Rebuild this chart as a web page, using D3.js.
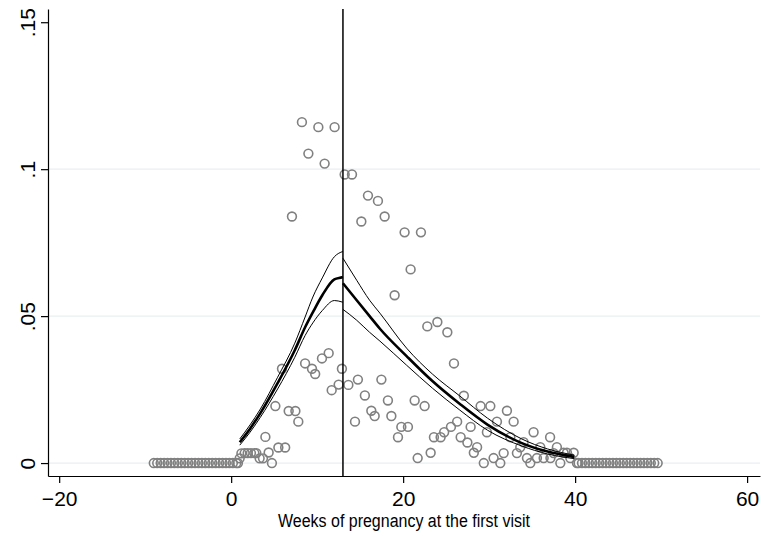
<!DOCTYPE html>
<html>
<head>
<meta charset="utf-8">
<script src="https://cdn.jsdelivr.net/npm/d3@7/dist/d3.min.js"></script>
<style>
body { margin: 0; background: #fff; }
text { font-family: "Liberation Sans", Arial, Helvetica, sans-serif; fill: #000; }
</style>
</head>
<body>
<div id="chart"></div>
<script>
'use strict';

// share of first visits at each week of pregnancy (hollow circles)
var weeks = [
    -9.0, -8.6, -8.2, -7.8, -7.4, -7.0, -6.6, -6.2, -5.8, -5.4, -5.0, -4.6,
    -4.2, -3.8, -3.4, -3.0, -2.6, -2.2, -1.8, -1.4, -1.0, -0.6, -0.2, 0.2,
    0.60, 0.79, 0.99, 1.19, 1.57, 1.92, 2.30, 2.70, 2.93, 3.31, 3.70, 3.98,
    4.36, 4.74, 5.14, 5.49, 5.91, 6.28, 6.69, 7.07, 7.47, 7.81, 8.23, 8.60,
    8.98, 9.40, 9.77, 10.14, 10.56, 10.87, 11.34, 11.69, 12.03, 12.50, 12.88, 13.20,
    13.63, 14.05, 14.40, 14.74, 15.14, 15.55, 15.91, 16.30, 16.69, 17.07, 17.47, 17.85,
    18.23, 18.63, 19.01, 19.40, 19.79, 20.17, 20.56, 20.87, 21.34, 21.69, 22.07, 22.50,
    22.81, 23.20, 23.58, 23.98, 24.36, 24.77, 25.14, 25.56, 25.91, 26.28, 26.69, 27.06,
    27.47, 27.85, 28.22, 28.60, 29.01, 29.38, 29.74, 30.14, 30.52, 30.91, 31.30, 31.69,
    32.07, 32.47, 32.85, 33.23, 33.62, 34.01, 34.40, 34.79, 35.17, 35.56, 35.95, 36.34,
    37.09, 37.13, 37.50, 37.88, 38.28, 38.66, 39.05, 39.44, 39.83, 40.21,
    40.4, 40.8, 41.2, 41.6, 42.0, 42.4, 42.8, 43.2, 43.6, 44.0, 44.4, 44.8,
    45.2, 45.6, 46.0, 46.4, 46.8, 47.2, 47.6, 48.0, 48.4, 48.8, 49.2, 49.6
];
var share = [
    0, 0, 0, 0, 0, 0, 0, 0, 0, 0, 0, 0,
    0, 0, 0, 0, 0, 0, 0, 0, 0, 0, 0, 0,
    0, 0, 0.0016, 0.0033, 0.0034, 0.0034, 0.0034, 0.0034, 0.0034, 0.0016, 0.0016, 0.0089,
    0.0036, 0, 0.0194, 0.0053, 0.0321, 0.0053, 0.0177, 0.0839, 0.0177, 0.0141, 0.1160, 0.0339,
    0.1053, 0.0321, 0.0303, 0.1143, 0.0356, 0.1019, 0.0374, 0.0248, 0.1143, 0.0267, 0.0321, 0.0982,
    0.0266, 0.0982, 0.0141, 0.0284, 0.0822, 0.0230, 0.0910, 0.0178, 0.0160, 0.0892, 0.0284, 0.0839,
    0.0213, 0.0160, 0.0571, 0.0088, 0.0123, 0.0785, 0.0123, 0.0659, 0.0213, 0.0017, 0.0785, 0.0194,
    0.0465, 0.0035, 0.0088, 0.0480, 0.0088, 0.0105, 0.0445, 0.0123, 0.0339, 0.0141, 0.0088, 0.0229,
    0.0070, 0.0123, 0.0035, 0.0054, 0.0194, 0, 0.0105, 0.0194, 0.0017, 0.0141, 0, 0.0034,
    0.0178, 0.0088, 0.0141, 0.0034, 0.0054, 0.0071, 0.0017, 0, 0.0105, 0.0017, 0.0054, 0.0017,
    0.0088, 0.0017, 0.0034, 0.0054, 0, 0.0035, 0.0035, 0.0017, 0.0035, 0,
    0, 0, 0, 0, 0, 0, 0, 0, 0, 0, 0, 0,
    0, 0, 0, 0, 0, 0, 0, 0, 0, 0, 0, 0
];

// fitted density and confidence band, before the cutoff
var fitLeftX  = [1.0, 2.2, 3.4, 5.4, 7.4, 8.6, 9.5, 10.6, 12.0, 12.9, 13.0];
var fitLeftY  = [0.0071, 0.0117, 0.0170, 0.0272, 0.0384, 0.0462, 0.0513, 0.0571, 0.0625, 0.0632, 0.0633];
var fitLeftHi = [0.0082, 0.0130, 0.0184, 0.0292, 0.0408, 0.0497, 0.0565, 0.0630, 0.0702, 0.0719, 0.0720];
var fitLeftLo = [0.0061, 0.0105, 0.0156, 0.0252, 0.0360, 0.0434, 0.0477, 0.0519, 0.0553, 0.0548, 0.0547];

// fitted density and confidence band, after the cutoff
var fitRightX  = [13.0, 14.6, 16.1, 17.3, 20.4, 23.4, 26.6, 29.8, 33.8, 36.8, 39.9];
var fitRightY  = [0.0612, 0.0554, 0.0500, 0.0457, 0.0364, 0.0279, 0.0201, 0.0131, 0.0068, 0.0039, 0.0021];
var fitRightHi = [0.0697, 0.0622, 0.0554, 0.0510, 0.0391, 0.0303, 0.0228, 0.0153, 0.0082, 0.0048, 0.0027];
var fitRightLo = [0.0523, 0.0486, 0.0445, 0.0415, 0.0333, 0.0255, 0.0180, 0.0112, 0.0058, 0.0031, 0.0015];

var cutoff = 13;
var xTicks = [-20, 0, 20, 40, 60];
var yTicks = [0, 0.05, 0.1, 0.15];
var yTickLabels = ['0', '.05', '.1', '.15'];
var gridTicks = [0, 0.05, 0.1];
var xTitle = 'Weeks of pregnancy at the first visit';

var chart = {};

chart.width = 761;
chart.height = 537;
chart.margins = {top: 9, bottom: 61, left: 48, right: 1};
chart.cw = chart.width - chart.margins.left - chart.margins.right;
chart.ch = chart.height - chart.margins.top - chart.margins.bottom;

chart.x = d3.scaleLinear().domain([-21.3, 61.5]).range([0, chart.cw]);
chart.y = d3.scaleLinear().domain([-0.0044, 0.1545]).range([chart.ch, 0]);

chart.appendSvg = function(div)
{
    var svg = d3.select(div).append('svg')
        .attr('width', chart.width)
        .attr('height', chart.height);

    svg.append('rect')
        .attr('width', chart.width)
        .attr('height', chart.height)
        .attr('fill', '#fff');

    return svg;
}

chart.appendPlotGroup = function(svg)
{
    return svg.append('g')
        .attr('transform', 'translate(' + chart.margins.left + ',' + chart.margins.top + ')');
}

chart.drawGrid = function(g)
{
    g.selectAll('line.grid')
        .data(gridTicks)
        .enter()
        .append('line')
        .attr('class', 'grid')
        .attr('x1', 0)
        .attr('x2', chart.cw)
        .attr('y1', function(d){ return chart.y(d); })
        .attr('y2', function(d){ return chart.y(d); })
        .style('stroke', '#e8f0f1')
        .style('stroke-width', 1.2);
}

chart.drawPoints = function(g)
{
    var pts = weeks.map(function(w, i){ return {w: w, s: share[i]}; });

    g.selectAll('circle.obs')
        .data(pts)
        .enter()
        .append('circle')
        .attr('class', 'obs')
        .attr('cx', function(d){ return chart.x(d.w); })
        .attr('cy', function(d){ return chart.y(d.s); })
        .attr('r', 4.4)
        .style('fill', 'none')
        .style('stroke', '#808080')
        .style('stroke-width', 1.6);
}

chart.drawFit = function(g, xs, ys, width)
{
    var line = d3.line()
        .x(function(d){ return chart.x(d[0]); })
        .y(function(d){ return chart.y(d[1]); })
        .curve(d3.curveMonotoneX);

    g.append('path')
        .attr('d', line(xs.map(function(v, i){ return [v, ys[i]]; })))
        .style('fill', 'none')
        .style('stroke', '#000')
        .style('stroke-width', width);
}

chart.drawAxes = function(g)
{
    var xAxis = d3.axisBottom(chart.x)
        .tickValues(xTicks)
        .tickFormat(function(d){ return d < 0 ? '\u2212' + Math.abs(d) : d; })
        .tickSize(7)
        .tickSizeOuter(0)
        .tickPadding(8);

    var gx = g.append('g')
        .attr('transform', 'translate(0,' + chart.ch + ')')
        .call(xAxis);

    gx.selectAll('text').style('font-size', '21px');

    var yAxis = d3.axisLeft(chart.y)
        .tickValues(yTicks)
        .tickFormat(function(d, i){ return yTickLabels[i]; })
        .tickSize(7)
        .tickSizeOuter(0);

    var gy = g.append('g').call(yAxis);

    gy.selectAll('text')
        .attr('x', 0)
        .attr('y', -13)
        .attr('dy', null)
        .attr('text-anchor', 'middle')
        .attr('transform', 'rotate(-90)')
        .style('font-size', '21px');

    g.selectAll('.domain, .tick line')
        .style('stroke', '#000')
        .style('stroke-width', 1.2);

    g.append('text')
        .attr('x', chart.cw / 2)
        .attr('y', chart.ch + 51)
        .attr('text-anchor', 'middle')
        .attr('textLength', 252)
        .attr('lengthAdjust', 'spacingAndGlyphs')
        .style('font-size', '18px')
        .text(xTitle);
}

chart.run = function()
{
    var svg = chart.appendSvg('#chart');
    var g = chart.appendPlotGroup(svg);

    chart.drawGrid(g);
    chart.drawPoints(g);

    chart.drawFit(g, fitLeftX, fitLeftHi, 1);
    chart.drawFit(g, fitLeftX, fitLeftLo, 1);
    chart.drawFit(g, fitLeftX, fitLeftY, 2.6);
    chart.drawFit(g, fitRightX, fitRightHi, 1);
    chart.drawFit(g, fitRightX, fitRightLo, 1);
    chart.drawFit(g, fitRightX, fitRightY, 2.6);

    // cutoff line
    g.append('line')
        .attr('x1', chart.x(cutoff))
        .attr('x2', chart.x(cutoff))
        .attr('y1', 0)
        .attr('y2', chart.ch)
        .style('stroke', '#000')
        .style('stroke-width', 1.5);

    chart.drawAxes(g);
}

chart.run();
</script>
</body>
</html>
